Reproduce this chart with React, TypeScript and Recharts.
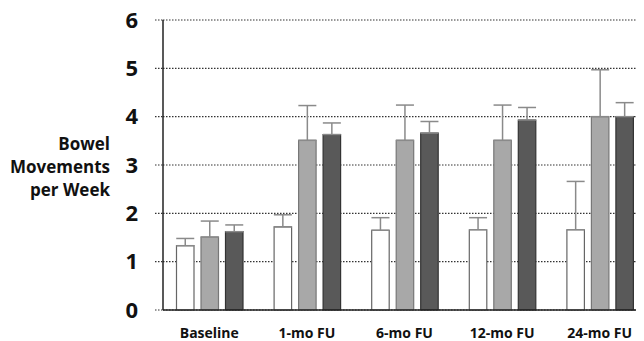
import React from 'react';
import { BarChart, Bar, XAxis, YAxis, CartesianGrid, ErrorBar } from 'recharts';

const categories = ['Baseline', '1-mo FU', '6-mo FU', '12-mo FU', '24-mo FU'];
const seriesA = [1.33, 1.72, 1.65, 1.66, 1.66];
const errA = [0.15, 0.25, 0.26, 0.25, 1.0];
const seriesB = [1.51, 3.51, 3.51, 3.51, 4.0];
const errB = [0.33, 0.72, 0.73, 0.73, 0.97];
const seriesC = [1.62, 3.63, 3.66, 3.93, 4.0];
const errC = [0.14, 0.24, 0.24, 0.26, 0.29];
const yTicks = [0, 1, 2, 3, 4, 5, 6];
const yLabelLines = ['Bowel', 'Movements', 'per Week'];

const data = categories.map((name, i) => ({
  name,
  a: seriesA[i],
  aErr: [0, errA[i]],
  b: seriesB[i],
  bErr: [0, errB[i]],
  c: seriesC[i],
  cErr: [0, errC[i]],
}));

const FONT = '"Open Sans", "DejaVu Sans", sans-serif';

const YLabel = (props: any) => {
  const vb = props.viewBox || { x: 0, y: 0, width: 0, height: 0 };
  const xr = vb.x + 102;
  const cy = vb.y + vb.height / 2;
  return (
    <text
      textAnchor="end"
      fontFamily={FONT}
      fontWeight={700}
      fontSize={17}
      fill="#111"
    >
      {yLabelLines.map((t, i) => (
        <tspan key={t} x={xr} y={cy - 15 + i * 23}>
          {t}
        </tspan>
      ))}
    </text>
  );
};

const errStyle = { stroke: '#8a8a8a', strokeWidth: 1.5 };

export default function App() {
  return (
    <div style={{ width: 636, height: 333, overflow: 'hidden' }}>
      <BarChart
        width={636}
        height={333}
        data={data}
        margin={{ top: 12, right: 0, bottom: 0, left: 0 }}
        barSize={17.5}
        barGap={7}
      >
        <CartesianGrid
          vertical={false}
          stroke="#333"
          strokeWidth={1.2}
          strokeDasharray="1.5 1.5"
        />
        <XAxis
          dataKey="name"
          height={31}
          padding={{ left: -2.5, right: -4.5 }}
          tickLine={false}
          tickSize={0}
          tickMargin={18}
          axisLine={{ stroke: '#222', strokeWidth: 1.5 }}
          tick={{ fontFamily: FONT, fontWeight: 700, fontSize: 14, fill: '#111' }}
        />
        <YAxis
          width={155}
          domain={[0, 6]}
          ticks={yTicks}
          interval={0}
          tickSize={8}
          tickMargin={17}
          tickLine={{ stroke: '#333', strokeWidth: 1.2, strokeDasharray: '1.5 1.5' }}
          axisLine={{ stroke: '#222', strokeWidth: 1.5 }}
          tick={{ fontFamily: FONT, fontWeight: 700, fontSize: 22, fill: '#111' }}
          label={{ content: YLabel }}
        />
        <Bar dataKey="a" fill="#ffffff" stroke="#666" strokeWidth={1.2} isAnimationActive={false}>
          <ErrorBar dataKey="aErr" direction="y" width={9} {...errStyle} />
        </Bar>
        <Bar dataKey="b" fill="#a8a8a8" stroke="#777" strokeWidth={1.2} isAnimationActive={false}>
          <ErrorBar dataKey="bErr" direction="y" width={9} {...errStyle} />
        </Bar>
        <Bar dataKey="c" fill="#595959" stroke="#333" strokeWidth={1.2} isAnimationActive={false}>
          <ErrorBar dataKey="cErr" direction="y" width={9} {...errStyle} />
        </Bar>
      </BarChart>
    </div>
  );
}
